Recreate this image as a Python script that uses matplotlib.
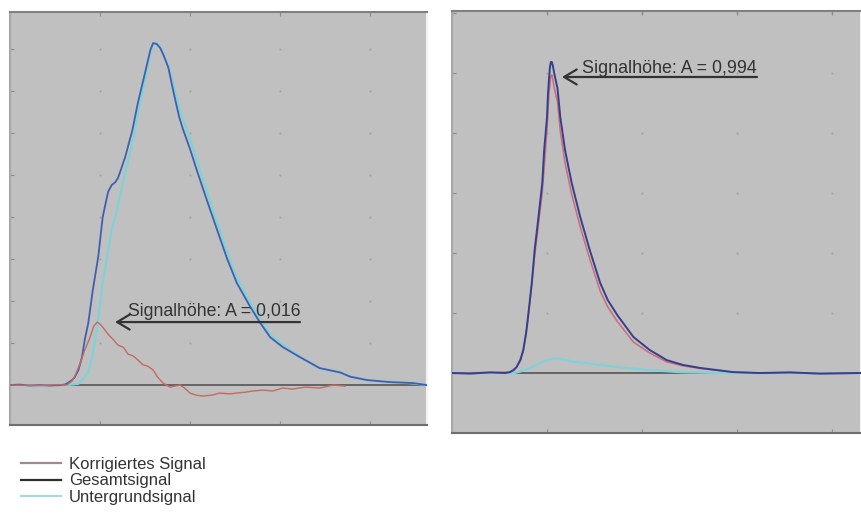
import numpy as np
import matplotlib
matplotlib.use("Agg")
import matplotlib.pyplot as plt
from matplotlib.lines import Line2D

plt.rcParams["font.family"] = ["Liberation Sans", "DejaVu Sans"]

# ── Data: left panel (weak signal), y in milli-absorbance ─────────────────────
t_ges_l = [0.00, 0.11, 0.22, 0.33, 0.44, 0.56, 0.61, 0.64, 0.69, 0.72, 0.76, 0.80,
           0.83, 0.87, 0.92, 0.98, 1.03, 1.09, 1.13, 1.17, 1.20, 1.22, 1.28, 1.36,
           1.42, 1.50, 1.56, 1.59, 1.63, 1.67, 1.71, 1.76, 1.80, 1.84, 1.88, 1.92,
           2.00, 2.07, 2.14, 2.21, 2.30, 2.41, 2.52, 2.67, 2.78, 2.89, 3.03, 3.22,
           3.44, 3.67, 3.78, 3.97, 4.22, 4.48, 4.63]
a_ges_l = [0.0, 0.12, -0.12, 0.0, -0.12, 0.0, 0.12, 0.48, 1.19, 1.9, 3.57, 6.67,
           10.7, 14.8, 22.6, 30.5, 40.0, 46.0, 47.6, 48.3, 49.3, 50.5, 54.3, 60.7,
           67.1, 74.3, 79.8, 81.4, 81.2, 80.2, 78.3, 75.5, 71.4, 67.5, 63.8, 61.0,
           56.2, 51.5, 47.0, 42.6, 37.0, 30.2, 24.3, 18.6, 14.8, 11.4, 9.05, 6.67,
           4.05, 3.0, 2.0, 1.19, 0.71, 0.48, 0.0]

t_ugr_l = [0.00, 0.56, 0.67, 0.76, 0.80, 0.87, 0.92, 0.98, 1.03, 1.09, 1.13, 1.17,
           1.20, 1.22, 1.28, 1.36, 1.42, 1.50, 1.56, 1.59, 1.63, 1.67, 1.71, 1.76,
           1.80, 1.84, 1.88, 1.92, 2.00, 2.07, 2.14, 2.21, 2.30, 2.41, 2.52, 2.67,
           2.78, 2.89, 3.03, 3.22, 3.44, 3.67, 3.78, 3.97, 4.22, 4.48, 4.63]
a_ugr_l = [0.0, 0.0, 0.1, 0.3, 1.1, 3.0, 7.5, 15.7, 24.5, 32.0, 37.0, 40.0,
           43.0, 45.0, 50.5, 57.5, 64.5, 72.5, 79.0, 81.0, 81.5, 80.5, 78.6, 76.0,
           72.6, 69.2, 66.0, 63.4, 58.6, 53.8, 49.2, 44.6, 38.8, 31.8, 25.5, 19.5,
           15.7, 12.0, 9.6, 6.8, 3.9, 3.0, 2.0, 1.2, 0.8, 0.4, 0.0]

t_kor_l = [0.00, 0.33, 0.56, 0.63, 0.69, 0.73, 0.78, 0.83, 0.89, 0.93, 0.97, 1.00,
           1.03, 1.09, 1.14, 1.20, 1.26, 1.31, 1.37, 1.42, 1.48, 1.53, 1.59, 1.64,
           1.70, 1.78, 1.83, 1.89, 1.94, 2.00, 2.07, 2.14, 2.24, 2.33, 2.44, 2.52,
           2.61, 2.70, 2.81, 2.92, 3.03, 3.14, 3.28, 3.44, 3.59, 3.72]
a_kor_l = [0.0, -0.1, 0.1, 0.0, 0.95, 2.6, 5.2, 8.3, 11.4, 14.0, 15.0, 14.5,
           13.8, 12.1, 11.0, 9.5, 9.0, 7.4, 6.9, 6.0, 4.8, 4.5, 3.6, 1.9,
           0.48, -0.48, -0.24, 0.0, -0.7, -1.9, -2.4, -2.6, -2.4, -1.9, -2.1, -1.9,
           -1.7, -1.4, -1.2, -1.4, -0.7, -0.95, -0.48, -0.7, 0.0, -0.24]

# ── Data: right panel (strong signal), y in absorbance ────────────────────────
t_ges_r = [0.00, 0.19, 0.40, 0.56, 0.61, 0.65, 0.68, 0.72, 0.75, 0.78, 0.80, 0.84,
           0.87, 0.91, 0.95, 0.97, 1.00, 1.01, 1.02, 1.03, 1.04, 1.05, 1.06, 1.08,
           1.11, 1.14, 1.19, 1.26, 1.35, 1.45, 1.56, 1.64, 1.74, 1.91, 2.08, 2.26,
           2.43, 2.61, 2.96, 3.24, 3.56, 3.87, 4.31]
a_ges_r = [0.0, -0.002, 0.002, 0.0, 0.003, 0.010, 0.020, 0.043, 0.077, 0.133, 0.187, 0.300,
           0.410, 0.520, 0.633, 0.743, 0.853, 0.927, 0.977, 1.017, 1.037, 1.037, 1.027, 0.993,
           0.950, 0.853, 0.743, 0.633, 0.520, 0.410, 0.300, 0.243, 0.193, 0.120, 0.077, 0.043,
           0.027, 0.017, 0.003, 0.0, 0.002, -0.002, 0.0]

t_ugr_r = [0.00, 0.66, 0.74, 0.82, 0.91, 0.98, 1.06, 1.14, 1.29, 1.56, 1.82, 2.08,
           2.39, 2.82, 4.31]
a_ugr_r = [0.0, 0.0, 0.007, 0.017, 0.030, 0.040, 0.048, 0.047, 0.037, 0.027, 0.017, 0.010,
           0.003, 0.0, 0.0]

t_kor_r = [0.00, 0.40, 0.61, 0.68, 0.75, 0.80, 0.87, 0.95, 1.00, 1.02, 1.04, 1.05,
           1.06, 1.08, 1.11, 1.14, 1.19, 1.26, 1.35, 1.45, 1.56, 1.64, 1.74, 1.91,
           2.08, 2.26, 2.43, 2.61, 2.96, 3.24, 3.56, 3.87, 4.31]
a_kor_r = [0.0, 0.002, 0.003, 0.020, 0.070, 0.175, 0.390, 0.600, 0.810, 0.930, 0.990, 0.994,
           0.980, 0.945, 0.905, 0.806, 0.700, 0.595, 0.487, 0.380, 0.273, 0.220, 0.172, 0.103,
           0.067, 0.037, 0.024, 0.015, 0.003, 0.0, 0.002, -0.002, 0.0]

labels = ["Korrigiertes Signal", "Gesamtsignal", "Untergrundsignal"]
peak_text_l = "Signalhöhe: A = 0,016"
peak_text_r = "Signalhöhe: A = 0,994"

# ── Styles ────────────────────────────────────────────────────────────────────
PANEL_BG = "#c0c0c0"
C_KOR_L = "#c46a62"
C_KOR_R = "#cf6a78"
C_GES_L = "#3f5fb0"
C_GES_R = "#34408e"
C_UGR = "#7fd2d8"
C_TXT = "#333333"


def style_panel(ax, xlim, ylim, xstep, ystep):
    ax.set_facecolor(PANEL_BG)
    ax.set_xlim(*xlim)
    ax.set_ylim(*ylim)
    xt = np.arange(0, xlim[1] + 1e-9, xstep)
    yt = np.arange(0, ylim[1] + 1e-9, ystep)
    ax.set_xticks(xt)
    ax.set_yticks(yt)
    ax.set_xticklabels([])
    ax.set_yticklabels([])
    ax.tick_params(direction="in", length=3, color="#8c8c8c",
                   top=True, bottom=True, left=True, right=False)
    gx, gy = np.meshgrid(xt[1:], yt[1:])
    ax.scatter(gx.ravel(), gy.ravel(), s=2.5, color="#a4a4a4", lw=0, zorder=1)
    ax.axhline(0, color="#555555", lw=1.2, zorder=2)
    ax.spines["top"].set_color("#808080")
    ax.spines["bottom"].set_color("#6e6e6e")
    ax.spines["left"].set_color("#a8a8a8")
    ax.spines["right"].set_color("#f2f2f2")
    for s in ax.spines.values():
        s.set_linewidth(1.5)


def peak_label(ax, head, tail, text_x, text_y, text, size):
    ax.annotate("", xy=head, xytext=tail,
                arrowprops=dict(arrowstyle="->,head_length=0.75,head_width=0.45",
                                color=C_TXT, lw=1.6, shrinkA=0, shrinkB=0),
                fontsize=12, zorder=6)
    ax.text(text_x, text_y, text, fontsize=size, color=C_TXT,
            ha="left", va="baseline", zorder=6)


fig = plt.figure(figsize=(8.61, 5.15), dpi=100)

# left panel
ax1 = fig.add_axes([10 / 861, 1 - 425 / 515, 417 / 861, 413 / 515])
style_panel(ax1, (0, 4.633), (-0.0095, 0.0888), 1.0, 0.01)
ax1.plot(t_ugr_l, np.array(a_ugr_l) / 1000, color=C_UGR, lw=1.6, zorder=3)
ax1.plot(t_ges_l, np.array(a_ges_l) / 1000, color=C_GES_L, lw=1.3, zorder=4)
ax1.plot(t_kor_l, np.array(a_kor_l) / 1000, color=C_KOR_L, lw=1.0, zorder=5)
peak_label(ax1, (1.167, 0.0150), (3.222, 0.0150), 1.31, 0.0164, peak_text_l, 12.7)

# right panel
ax2 = fig.add_axes([452 / 861, 1 - 433 / 515, 409 / 861, 422 / 515])
style_panel(ax2, (0, 4.305), (-0.2, 1.207), 1.0, 0.2)
ax2.plot(t_ugr_r, a_ugr_r, color=C_UGR, lw=1.6, zorder=3)
ax2.plot(t_kor_r, a_kor_r, color=C_KOR_R, lw=1.1, zorder=4)
ax2.plot(t_ges_r, a_ges_r, color=C_GES_R, lw=1.4, zorder=5)
peak_label(ax2, (1.158, 0.987), (3.21, 0.987), 1.37, 1.0, peak_text_r, 12.9)

# legend below the panels
handles = [Line2D([], [], color="#9a8c90", lw=1.6),
           Line2D([], [], color="#2e2e2e", lw=1.6),
           Line2D([], [], color="#a6dada", lw=1.6)]
fig.legend(handles, labels, loc="upper left",
           bbox_to_anchor=(21 / 861, 1 - 457 / 515),
           frameon=False, fontsize=12, labelspacing=0.08,
           handlelength=2.4, handletextpad=0.48, borderpad=0, borderaxespad=0,
           labelcolor="#333333")

fig.savefig("out.png", dpi=100, facecolor="white")
